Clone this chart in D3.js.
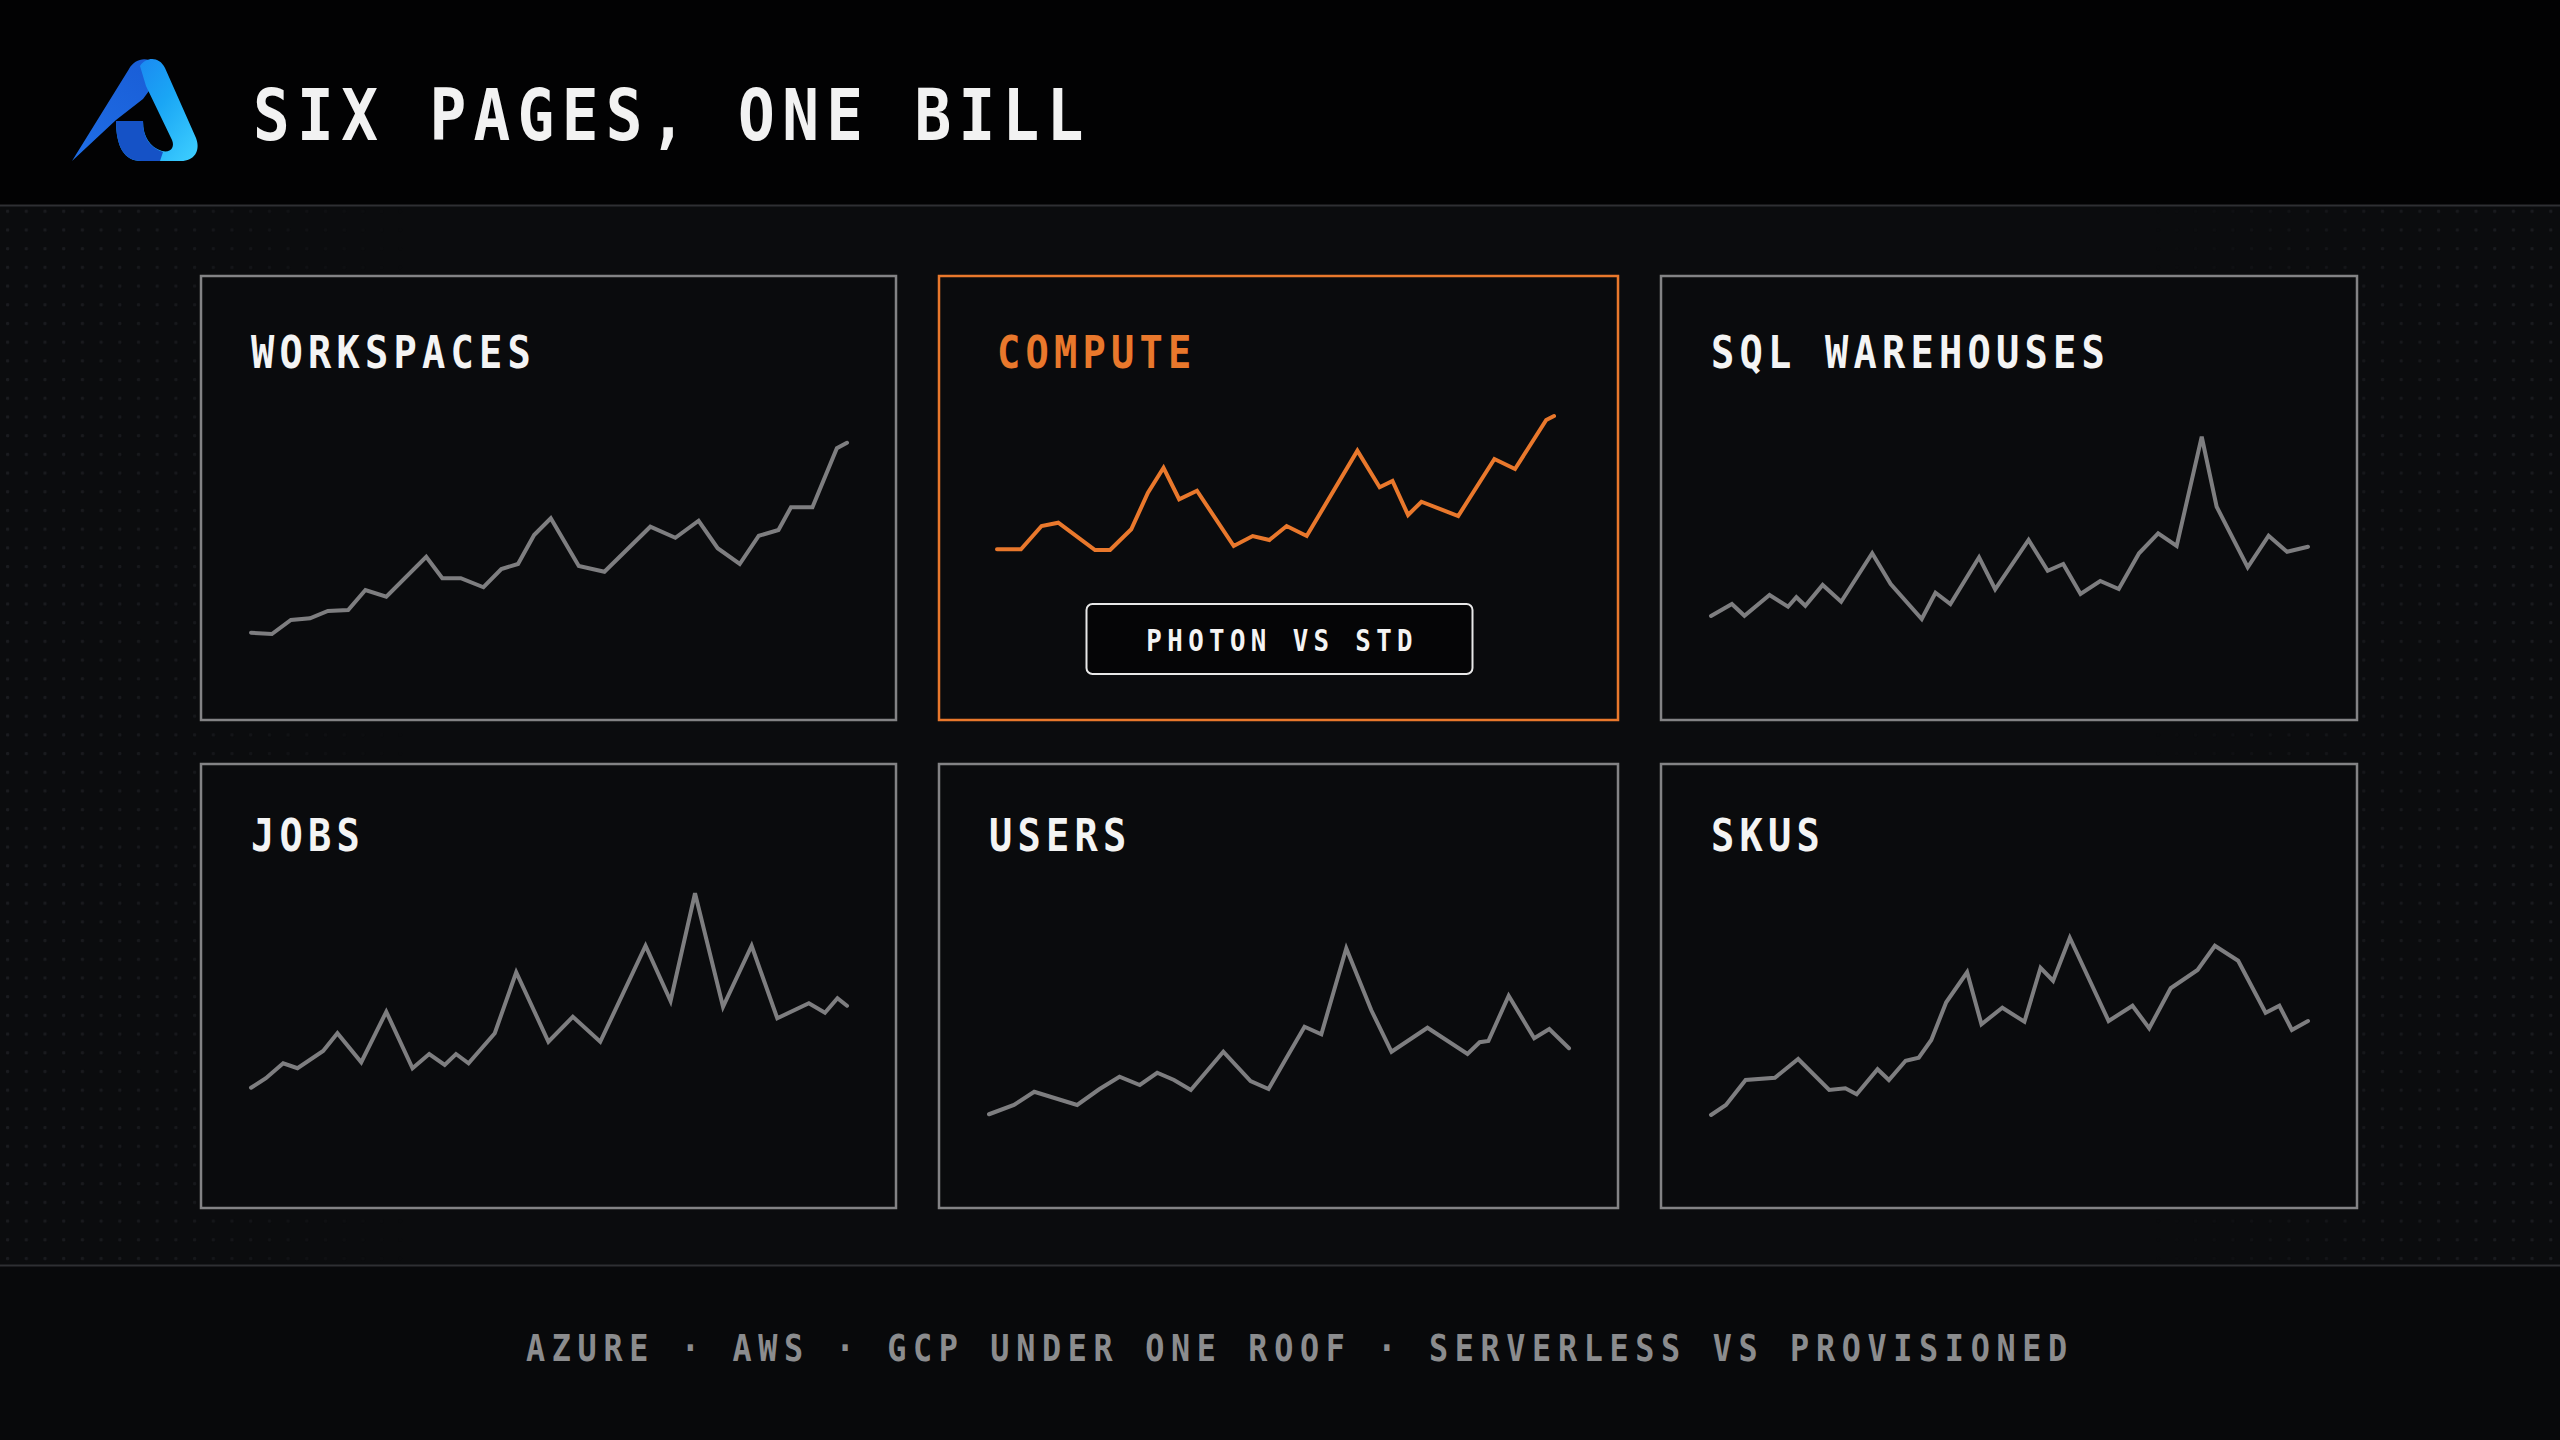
<!DOCTYPE html>
<html>
<head>
<meta charset="utf-8">
<script src="https://cdn.jsdelivr.net/npm/d3@7"></script>
<style>
  html, body { margin: 0; padding: 0; background: #0b0c0e; }
  svg { display: block; }
</style>
</head>
<body>
<script>
// ---------------- DATA ----------------
const headerTitle = "SIX PAGES, ONE BILL";
const panelTitles = ["WORKSPACES", "COMPUTE", "SQL WAREHOUSES", "JOBS", "USERS", "SKUS"];
const badgeLabel = "PHOTON VS STD";
const footerItems = ["AZURE", "AWS", "GCP UNDER ONE ROOF", "SERVERLESS VS PROVISIONED"];

// time position (0-100 of period) and spend index (0-100)
const workspacesT = [0,3.5,6.7,9.9,12.9,16.3,19.2,22.7,29.4,32.1,35.2,39.0,42.0,44.8,47.5,50.3,55.0,59.3,67.0,71.2,75.1,78.3,82.0,85.2,88.5,90.6,94.2,98.3,100];
const workspacesV = [9.3,8.8,14.4,15.1,18.0,18.4,26.4,23.7,39.7,31.1,31.1,27.5,34.8,36.8,48.4,55.1,36.0,33.7,51.7,47.3,54.1,43.1,36.8,48.1,50.4,59.5,59.5,83.1,85.3];

const computeT = [0,4.3,8.0,11.0,17.6,20.3,24.1,27.1,29.9,32.7,35.9,42.5,45.9,48.9,52.0,55.6,64.7,68.7,71.0,73.8,76.2,82.8,89.3,93.0,98.6,100];
const computeV = [42.7,42.7,52.0,53.3,42.4,42.4,50.7,65.3,75.3,62.7,66.1,44.0,48.0,46.4,52.0,48.0,82.1,67.5,70.0,56.4,61.7,56.0,78.8,74.8,94.4,96.0];

const sqlT = [0,3.5,5.6,9.8,12.9,14.3,15.8,18.7,21.8,27.0,30.1,35.3,37.6,40.1,44.9,47.6,53.2,56.4,59.0,61.9,65.2,68.3,71.7,74.9,78.0,82.2,84.7,89.9,93.4,96.5,100];
const sqlV = [16.0,20.8,16.1,24.4,19.7,23.5,20.1,28.4,21.7,41.1,28.8,14.8,25.3,20.8,39.5,26.7,46.4,34.1,36.8,24.8,30.0,26.8,41.1,49.1,44.0,87.7,59.7,35.5,48.1,41.7,43.7];

const jobsT = [0,2.5,5.4,7.8,12.1,14.5,18.5,22.7,27.1,29.9,32.5,34.4,36.5,40.9,44.5,49.9,54.0,58.6,66.2,70.4,74.5,79.2,84.0,88.3,93.6,96.3,98.4,100];
const jobsV = [22.5,26.3,32.3,30.3,37.2,44.3,32.7,52.9,30.3,36.0,31.6,36.0,32.3,44.3,68.7,40.9,50.9,40.9,79.3,57.2,100.3,54.9,79.3,50.3,56.3,52.5,58.3,55.3];

const usersT = [0,4.3,7.8,15.2,19.0,22.5,26.0,29.0,31.9,34.8,40.4,45.1,48.2,51.4,54.4,57.3,61.6,65.9,69.4,75.6,82.5,84.6,86.1,89.6,94.0,96.6,100];
const usersV = [11.9,15.6,20.9,15.6,21.9,26.9,23.6,28.5,25.6,21.6,36.9,25.2,22.0,34.9,46.9,43.9,78.3,53.6,36.9,46.5,36.0,40.7,41.2,59.3,42.3,46.0,38.3];

const skusT = [0,2.5,5.8,10.7,14.6,19.8,22.5,24.4,27.9,29.8,32.6,34.8,36.9,39.4,42.9,45.3,48.8,52.5,55.2,57.3,60.1,66.6,70.6,73.4,77.0,81.5,84.4,88.3,92.9,95.2,97.3,100];
const skusV = [11.6,15.6,25.6,26.5,34.0,21.6,22.3,19.9,29.9,25.6,33.3,34.5,41.6,56.7,68.7,47.9,54.5,48.9,70.5,65.3,82.5,49.2,55.3,46.3,62.3,69.6,79.3,73.3,52.5,55.3,45.6,49.2];

const highlighted = "COMPUTE";

// ---------------- LAYOUT ----------------
const W = 2560, H = 1440;
const FONT = "'DejaVu Sans Mono', 'Liberation Mono', monospace";
const GRAY = "#7e7e80", ORANGE = "#e9782c";
const SX = 0.86; // horizontal condensing of the monospace face

const series = [
  [workspacesT, workspacesV], [computeT, computeV], [sqlT, sqlV],
  [jobsT, jobsV], [usersT, usersV], [skusT, skusV]
];

const colX = [201, 939, 1661], colW = [695, 679, 696];
const rowY = [276, 764], rowH = 444, titleDy = [92, 87];

const svg = d3.select("body").append("svg")
  .attr("width", W).attr("height", H).attr("viewBox", `0 0 ${W} ${H}`);

// condensed text helper: advance = target per-character advance in px
function condText(parent, x, y, str, fs, advance, fill, anchor) {
  const ls = advance / SX - 0.602 * fs;
  const t = parent.append("text")
    .attr("transform", `translate(${x},${y}) scale(${SX},1)`)
    .attr("x", anchor === "middle" ? ls / 2 : 0).attr("y", 0)
    .attr("font-family", FONT).attr("font-weight", "bold").attr("font-size", fs)
    .attr("letter-spacing", ls).attr("fill", fill).text(str);
  if (anchor) t.attr("text-anchor", anchor);
  return t;
}

const defs = svg.append("defs");
// dot grid pattern
const pat = defs.append("pattern").attr("id", "dots")
  .attr("width", 18.7).attr("height", 18.7).attr("patternUnits", "userSpaceOnUse")
  .attr("x", 6).attr("y", 4);
pat.append("rect").attr("x", 0).attr("y", 0).attr("width", 3.2).attr("height", 3.2)
  .attr("rx", 1.2).attr("fill", "#1b1c20");
const mg = defs.append("linearGradient").attr("id", "edgeFade").attr("x1", 0).attr("x2", 1).attr("y1", 0).attr("y2", 0);
[[0, 1], [0.07, 0.8], [0.16, 0], [0.84, 0], [0.93, 0.8], [1, 1]].forEach(([o, a]) =>
  mg.append("stop").attr("offset", o).attr("stop-color", "#fff").attr("stop-opacity", a));
const mask = defs.append("mask").attr("id", "dotMask").attr("maskUnits", "userSpaceOnUse")
  .attr("x", 0).attr("y", 206).attr("width", W).attr("height", 1059);
mask.append("rect").attr("x", 0).attr("y", 206).attr("width", W).attr("height", 1059).attr("fill", "url(#edgeFade)");

// logo gradients
const lg1 = defs.append("linearGradient").attr("id", "logoL").attr("x1", 0).attr("y1", 1).attr("x2", 0.6).attr("y2", 0);
lg1.append("stop").attr("offset", 0).attr("stop-color", "#1f6ee6");
lg1.append("stop").attr("offset", 1).attr("stop-color", "#1a5fd8");
const lg2 = defs.append("linearGradient").attr("id", "logoR").attr("x1", 0).attr("y1", 0).attr("x2", 1).attr("y2", 1);
lg2.append("stop").attr("offset", 0).attr("stop-color", "#1b7ef0");
lg2.append("stop").attr("offset", 0.5).attr("stop-color", "#1aa6f5");
lg2.append("stop").attr("offset", 1).attr("stop-color", "#3fd0ff");

// backgrounds
svg.append("rect").attr("width", W).attr("height", H).attr("fill", "#0b0c0e");
svg.append("rect").attr("x", 0).attr("y", 206).attr("width", W).attr("height", 1059)
  .attr("fill", "url(#dots)").attr("mask", "url(#dotMask)");
svg.append("rect").attr("width", W).attr("height", 206).attr("fill", "#020203");
svg.append("rect").attr("x", 0).attr("y", 1265).attr("width", W).attr("height", H - 1265).attr("fill", "#08090b");
svg.append("line").attr("x1", 0).attr("x2", W).attr("y1", 205.5).attr("y2", 205.5)
  .attr("stroke", "#2e2f33").attr("stroke-width", 2);
svg.append("line").attr("x1", 0).attr("x2", W).attr("y1", 1265.5).attr("y2", 1265.5)
  .attr("stroke", "#2e2f33").attr("stroke-width", 2);

// logo
const logo = svg.append("g");
logo.append("path").attr("fill", "url(#logoL)")
  .attr("d", "M72,161 L129,69 C134,59 147,56 153,63 L160,76 L143,99 L116,120 Z");
logo.append("path").attr("fill", "url(#logoR)")
  .attr("d", "M140,66 C146,57 159,56 165,68 L196,138 C201,151 194,161 181,161 L141,161 C124,161 116,146 116,121 L143,121 C143,137 150,147 162,151 C171,153 175,147 172,140 L146,86 Z");
logo.append("path").attr("fill", "#1552c6")
  .attr("d", "M116,121 L143,121 C143,137 149,147 163,152 L160,161 L141,161 C124,161 116,146 116,121 Z");

// header title
condText(svg, 253, 140, headerTitle, 71, 44.1, "#f2f2f2");

// panels
panelTitles.forEach((title, i) => {
  const c = i % 3, r = Math.floor(i / 3);
  const left = colX[c], top = rowY[r], w = colW[c];
  const hl = title === highlighted;
  const padL = hl ? 58 : 50, padR = hl ? 64 : 49;
  const g = svg.append("g");
  g.append("rect").attr("x", left).attr("y", top).attr("width", w).attr("height", rowH)
    .attr("fill", "#0a0b0d").attr("stroke", hl ? ORANGE : "#838385").attr("stroke-width", 2.5);
  condText(g, left + padL, top + titleDy[r], title, 45, 28.5, hl ? ORANGE : "#f4f4f4");

  const [tArr, vArr] = series[i];
  const x = d3.scaleLinear().domain([0, 100]).range([left + padL, left + w - padR]);
  const y = d3.scaleLinear().domain([0, 100]).range([top + 380, top + 130]);
  const line = d3.line().x(d => x(d[0])).y(d => y(d[1]));
  g.append("path").datum(d3.zip(tArr, vArr)).attr("d", line)
    .attr("fill", "none").attr("stroke", hl ? ORANGE : GRAY)
    .attr("stroke-width", 4).attr("stroke-linejoin", "miter").attr("stroke-linecap", "round");

  if (hl) {
    const bw = 386, bh = 70, bx = left + w / 2 - bw / 2 + 1, by = top + 328;
    g.append("rect").attr("x", bx).attr("y", by).attr("width", bw).attr("height", bh).attr("rx", 6)
      .attr("fill", "#050506").attr("stroke", "#e8e8e8").attr("stroke-width", 2);
    condText(g, bx + bw / 2, by + 47, badgeLabel, 30, 20.9, "#f4f4f4", "middle");
  }
});

// footer
condText(svg, 526, 1361, footerItems.join(" · "), 37, 25.8, "#8b8c8e");
</script>
</body>
</html>
